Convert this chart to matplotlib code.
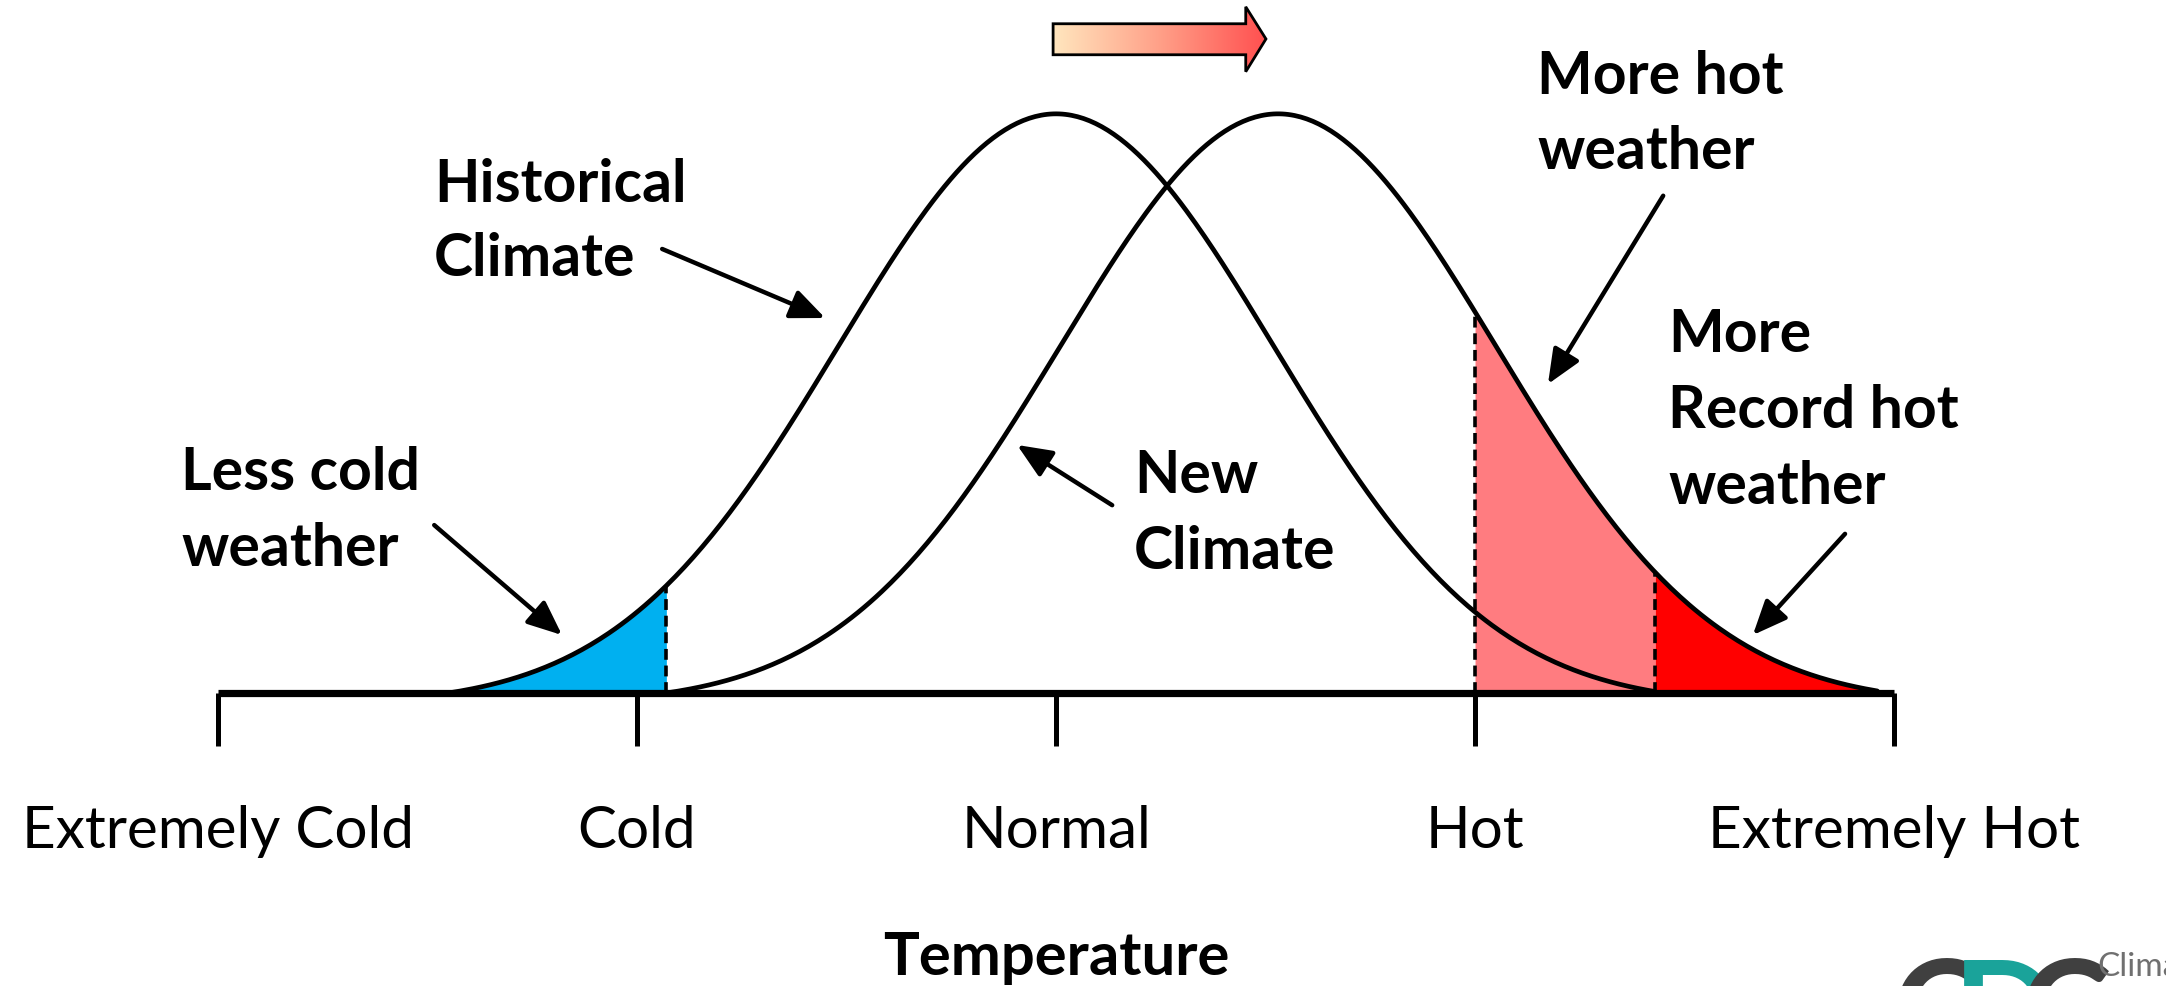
import numpy as np
import matplotlib.pyplot as plt
from matplotlib.patches import Polygon
from matplotlib.colors import LinearSegmentedColormap

plt.rcParams['font.family'] = ['Lato', 'DejaVu Sans']

# temperature categories along the axis
tick_pos = [-2, -1, 0, 1, 2]
tick_labels = ['Extremely Cold', 'Cold', 'Normal', 'Hot', 'Extremely Hot']

# the two bell curves: centre, spread and drawn range
hist_mean = 0.0
new_mean = 0.53
spread = 0.52
hist_range = (-1.45, 1.43)
new_range = (-0.93, 1.96)

# shaded bands
cold_band = (-1.45, -0.93)
hot_band = (1.0, 1.43)
record_band = (1.43, 1.96)


def bell(x, mu, rng):
    g = np.exp(-0.5 * ((x - mu) / spread) ** 2)
    g_end = np.exp(-0.5 * ((rng[0] - mu) / spread) ** 2)
    return 0.99 * (g - g_end) / (1 - g_end)


fig = plt.figure(figsize=(21.66, 9.86), dpi=100)
ax = fig.add_axes([0, 0, 1, 1])
ax.axis('off')

xh = np.linspace(hist_range[0], hist_range[1], 400)
xn = np.linspace(new_range[0], new_range[1], 400)

# shaded areas
xb = np.linspace(cold_band[0], cold_band[1], 100)
ax.fill_between(xb, 0, bell(xb, hist_mean, hist_range), color='#00B0F0', lw=0, zorder=1)
xb = np.linspace(hot_band[0], hot_band[1], 100)
ax.fill_between(xb, 0, bell(xb, new_mean, new_range), color='#FF7C80', lw=0, zorder=1)
xb = np.linspace(record_band[0], record_band[1], 100)
ax.fill_between(xb, 0, bell(xb, new_mean, new_range), color='#FF0000', lw=0, zorder=1)

# dashed edges of the bands
dash = (0, (3, 1.6))
ax.vlines(cold_band[1], 0, bell(cold_band[1], hist_mean, hist_range), colors='black', linestyles=dash, lw=2.6, zorder=2)
for xv in [hot_band[0], hot_band[1]]:
    ax.vlines(xv, 0, bell(xv, new_mean, new_range), colors='black', linestyles=dash, lw=2.6, zorder=2)

# curves
ax.plot(xh, bell(xh, hist_mean, hist_range), color='black', lw=3.4, zorder=3, solid_capstyle='round')
ax.plot(xn, bell(xn, new_mean, new_range), color='black', lw=3.4, zorder=3, solid_capstyle='round')

# axis line and ticks
ax.hlines(0, tick_pos[0], tick_pos[-1], colors='black', lw=5.2, zorder=4)
ax.vlines(tick_pos, -0.091, 0, colors='black', lw=3.6, zorder=4)
for p, lab in zip(tick_pos, tick_labels):
    ax.text(p, -0.265, lab, ha='center', va='baseline', fontsize=42)
ax.text(0, -0.482, 'Temperature', ha='center', va='baseline', fontsize=43, fontweight='bold')

# annotation labels
labels = [
    (-1.484, [0.839, 0.713], ['Historical', 'Climate']),
    (-2.088, [0.347, 0.217], ['Less cold', 'weather']),
    (0.186, [0.342, 0.212], ['New', 'Climate']),
    (1.148, [1.024, 0.896], ['More hot', 'weather']),
    (1.461, [0.583, 0.453, 0.323], ['More', 'Record hot', 'weather']),
]
for x0, ys, lines in labels:
    for y0, s in zip(ys, lines):
        ax.text(x0, y0, s, ha='left', va='baseline', fontsize=42.5, fontweight='bold')

arrows = [
    ((-0.940, 0.759), (-0.551, 0.641)),
    ((-1.484, 0.287), (-1.179, 0.099)),
    ((0.134, 0.321), (-0.093, 0.424)),
    ((1.449, 0.850), (1.174, 0.528)),
    ((1.883, 0.272), (1.663, 0.099)),
]
for tail, head in arrows:
    ax.annotate('', xy=head, xytext=tail,
                arrowprops=dict(arrowstyle='-|>, head_length=0.7, head_width=0.3',
                                lw=3.2, color='black', mutation_scale=30,
                                shrinkA=0, shrinkB=0), zorder=5)

# shift arrow with gradient fill
x0, x1 = hist_mean - 0.007, new_mean - 0.029
xt = x0 + (x1 - x0) * 0.905
pts = [(x0, 1.091), (xt, 1.091), (xt, 1.062), (x1, 1.118),
       (xt, 1.173), (xt, 1.144), (x0, 1.144)]
shift = Polygon(pts, closed=True, fc='none', ec='black', lw=2, zorder=6)
ax.add_patch(shift)
cmap = LinearSegmentedColormap.from_list('shift', ['#FFE6BE', '#FFA088', '#FF5050'])
grad = ax.imshow(np.linspace(0, 1, 256).reshape(1, -1), cmap=cmap, aspect='auto',
                 extent=[x0, x1, 1.062, 1.173], zorder=5)
grad.set_clip_path(shift)
ax.set_xlim(-2.5203, 2.649)
ax.set_ylim(-0.5009, 1.1846)

# logo fragment at the bottom right
ax.text(1.995, -0.451, 'C', color='#404040', fontsize=100, fontweight='bold', va='top', ha='left')
ax.text(2.14, -0.451, 'D', color='#1AA39A', fontsize=100, fontweight='bold', va='top', ha='left')
ax.text(2.30, -0.451, 'C', color='#404040', fontsize=100, fontweight='bold', va='top', ha='left')
ax.text(2.485, -0.443, 'Climate', color='#707070', fontsize=24, va='top', ha='left')

plt.savefig('out.png', dpi=100)
